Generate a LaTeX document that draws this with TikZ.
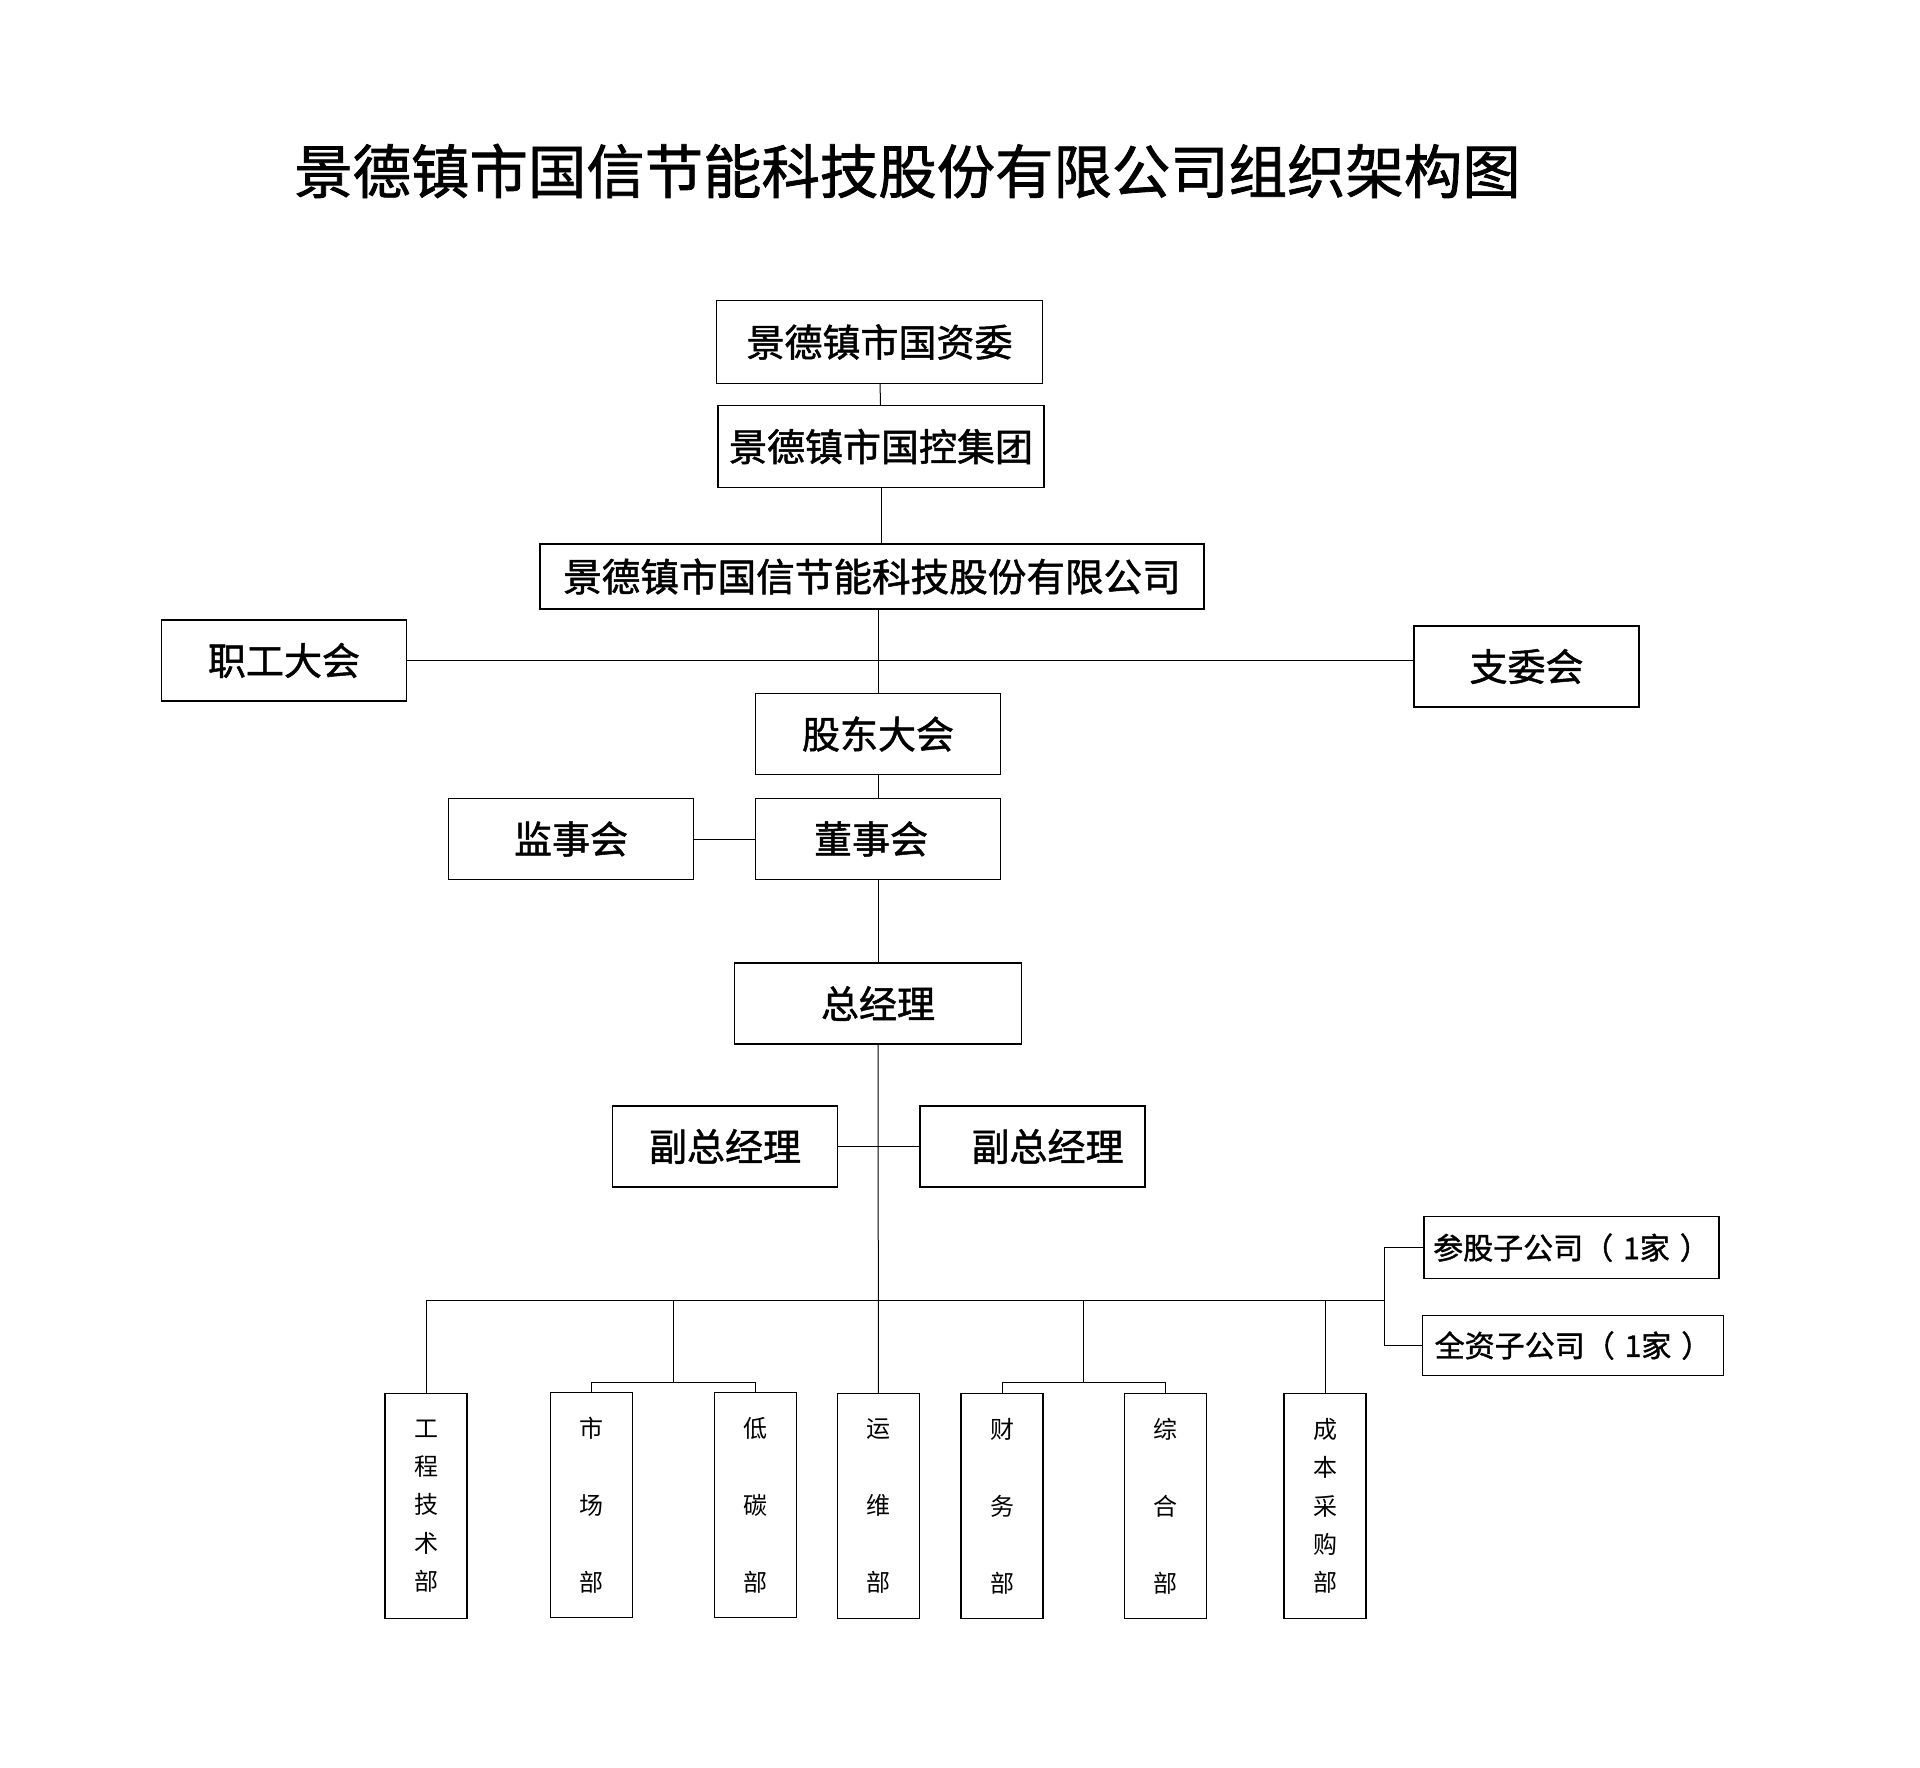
\documentclass[tikz,border=0pt]{standalone}
\usepackage{fontspec}
\setmainfont{Noto Sans CJK SC}
\newfontfamily\boxfont{Noto Sans CJK SC}[FakeBold=1.3]
\begin{document}
\begin{tikzpicture}[x=0.5pt,y=-0.5pt]
	% formatos
	\tikzstyle{box} = [draw, line width=0.7pt, inner sep=0pt, minimum height=40.5pt, font=\boxfont\fontsize{19}{22}\selectfont]
	\tikzstyle{dept} = [draw, line width=0.7pt, inner sep=0pt, minimum width=41pt, minimum height=112.5pt, align=center]
	\tikzstyle{sub} = [draw, line width=0.7pt, inner sep=0pt, font=\boxfont\fontsize{15}{18}\selectfont]
	\tikzstyle{link} = [line width=0.5pt]
	\useasboundingbox (0,0) rectangle (1920,1767);
	% titulo
	\node (title) at (907.5,171) {\boxfont\fontsize{29.2}{32}\selectfont 景德镇市国信节能科技股份有限公司组织架构图};
	% nodos
	\node [box, minimum width=163pt, minimum height=41.5pt] (gzw) at (879.5,342) {景德镇市国资委};
	\node [box, minimum width=163pt, minimum height=41pt] (kg) at (881,446.5) {景德镇市国控集团};
	\node [box, minimum width=332pt, minimum height=32.5pt, font=\boxfont\fontsize{19.3}{22}\selectfont] (gs) at (872,576.5) {景德镇市国信节能科技股份有限公司};
	\node [box, minimum width=122.5pt] (zg) at (284,660.5) {职工大会};
	\node [box, minimum width=112.5pt] (zw) at (1526.5,666.5) {支委会};
	\node [box, minimum width=122.5pt] (gd) at (878,734) {股东大会};
	\node [box, minimum width=122.5pt] (ds) at (878,839) {\hspace*{-7pt}董事会};
	\node [box, minimum width=122.5pt] (js) at (571,839) {监事会};
	\node [box, minimum width=143.5pt] (zjl) at (878,1003.5) {总经理};
	\node [box, minimum width=112.5pt] (fz1) at (725,1146.5) {副总经理};
	\node [box, minimum width=112.5pt] (fz2) at (1032.5,1146.5) {\hspace*{15pt}副总经理};
	\node [sub, minimum width=147.5pt, minimum height=31pt] (cg) at (1571.5,1247.7) {参股子公司（\hspace{5pt}1家\hspace{5pt}）};
	\node [sub, minimum width=150.5pt, minimum height=30pt] (qz) at (1573,1345.5) {全资子公司（\hspace{5pt}1家\hspace{5pt}）};
	% departamentos
	\node [dept, font=\fontsize{12}{19.15}\selectfont] (gc) at (426,1506) {工\\程\\技\\术\\部};
	\node [dept, font=\fontsize{12}{38.5}\selectfont] (sc) at (591.5,1505) {市\\场\\部};
	\node [dept, font=\fontsize{12}{38.5}\selectfont] (dt) at (755.5,1505) {低\\碳\\部};
	\node [dept, font=\fontsize{12}{38.5}\selectfont] (yw) at (878.5,1506) {运\\维\\部};
	\node [dept, font=\fontsize{12}{38.5}\selectfont] (cw) at (1002,1506) {财\\务\\部};
	\node [dept, font=\fontsize{12}{38.5}\selectfont] (zh) at (1165.5,1506) {综\\合\\部};
	\node [dept, font=\fontsize{12}{19.15}\selectfont] (cb) at (1325,1506) {成\\本\\采\\购\\部};
	\coordinate (busR) at (1384,1300);
	\coordinate (sb1) at (673,1382);
	\coordinate (sb2) at (1083,1382);
	% relaciones
	\draw [link] (gzw) -- (kg);
	\draw [link] (kg.south) -- (kg.south |- gs.north);
	\draw [link] (gd.north |- gs.south) -- (gd.north);
	\draw [link] (zg.east) -- (zg.east -| zw.west);
	\draw [link] (gd) -- (ds);
	\draw [link] (js) -- (ds);
	\draw [link] (ds) -- (zjl);
	\draw [link] (zjl) -- (yw);
	\draw [link] (fz1) -- (fz2);
	\draw [link] (gc.north) |- (busR);
	\draw [link] (sc.north) |- (sb1) -| (dt.north);
	\draw [link] (sb1) -- (sb1 |- busR);
	\draw [link] (cw.north) |- (sb2) -| (zh.north);
	\draw [link] (sb2) -- (sb2 |- busR);
	\draw [link] (cb.north) -- (cb.north |- busR);
	\draw [link] (cg.west) -- (cg.west -| busR) -- (qz.west -| busR) -- (qz.west);
\end{tikzpicture}
\end{document}
